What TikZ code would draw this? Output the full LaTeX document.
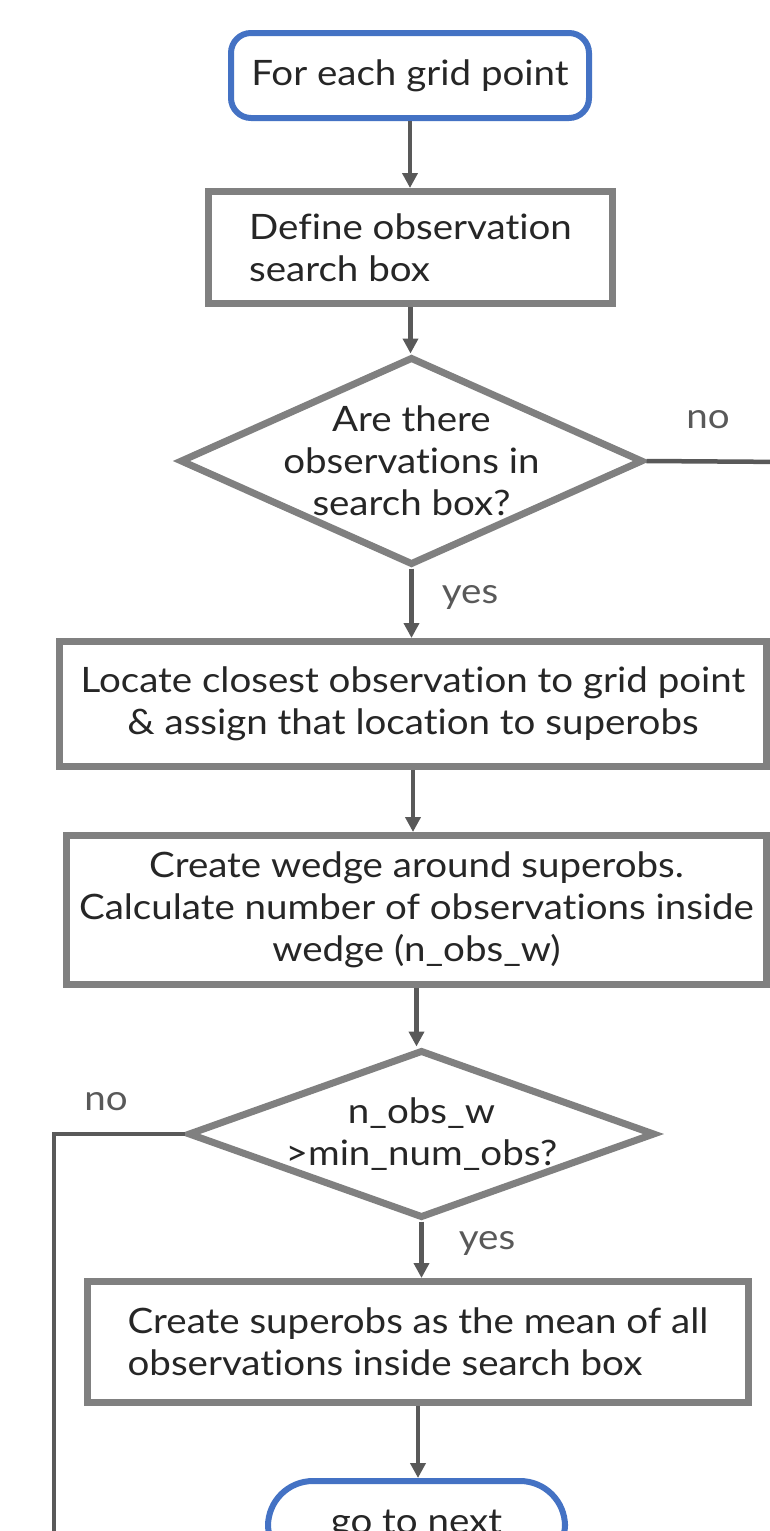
\documentclass[tikz,border=0pt]{standalone}
\usepackage{fontspec}
\setmainfont{Lato}[FakeStretch=1.1, Ligatures=NoCommon]
\usetikzlibrary{shapes.geometric,arrows.meta}
\definecolor{bblue}{HTML}{4472C4}
\definecolor{bgray}{HTML}{808080}
\definecolor{agray}{HTML}{595959}
\definecolor{tdark}{HTML}{262626}
\begin{document}
\begin{tikzpicture}[x=1pt,y=-1pt,
  every node/.style={font=\fontsize{35}{42}\selectfont, text=tdark},
  term/.style={draw=bblue, line width=6pt, rounded corners=20pt, fill=white, inner sep=0pt, align=center},
  proc/.style={draw=bgray, line width=7pt, fill=white, inner sep=0pt, align=center},
  dec/.style={diamond, draw=bgray, line width=7pt, inner sep=0pt},
  arr/.style={draw=agray, line width=4.5pt, -{Triangle[length=15pt,width=15pt]}},
  conn/.style={draw=agray, line width=4.5pt},
  lab/.style={text=agray}]
\useasboundingbox (0,0) rectangle (770,1531);
\fill[white] (0,0) rectangle (770,1531);
\clip (0,0) rectangle (770,1531);

\node[term, minimum width=358, minimum height=85] (start) at (410,75.5) {For each grid point};
\node[proc, minimum width=404, minimum height=112, align=left] (def) at (410.5,247.5) {Define observation\\search box};
\node[dec, minimum width=463, minimum height=208] (d1) at (411.5,461) {};
\node[align=center] (d1t) at (d1.center) {Are there\\observations in\\search box?};
\node[proc, minimum width=707, minimum height=125] (loc) at (413,704) {Locate closest observation to grid point\\\& assign that location to superobs};
\node[proc, minimum width=700, minimum height=149] (wed) at (416.5,910) {Create wedge around superobs.\\Calculate number of observations inside\\wedge (n\_obs\_w)};
\node[dec, minimum width=467, minimum height=168] (d2) at (421.5,1134) {};
\node[align=center] (d2t) at (d2.center) {n\_obs\_w\\>min\_num\_obs?};
\node[proc, minimum width=661, minimum height=121, align=left] (mean) at (418,1342) {Create superobs as the mean of all\\observations inside search box};
\node[term, minimum width=297, minimum height=88, rounded corners=45pt, anchor=north] (end) at (416.5,1478) {go to next};

\coordinate (noR) at (790,462);
\coordinate (noL) at (54,1560);

\draw[arr] (start.south) -- (start.south |- def.north);
\draw[arr] (def.south) -- (def.south |- d1.north);
\draw[arr] (d1.south) -- (d1.south |- loc.north);
\draw[arr] (loc.south) -- (loc.south |- wed.north);
\draw[arr] (wed.south) -- (wed.south |- d2.north);
\draw[arr] (d2.south) -- (d2.south |- mean.north);
\draw[arr] (mean.south) -- (mean.south |- end.north);
\draw[conn] (d1.east) -- (noR);
\draw[conn] (d2.west) -| (noL);

\node[lab] (no1) at (708,420) {no};
\node[lab] (yes1) at (470,597) {yes};
\node[lab] (no2) at (106,1102) {no};
\node[lab] (yes2) at (487,1243) {yes};
\end{tikzpicture}
\end{document}
